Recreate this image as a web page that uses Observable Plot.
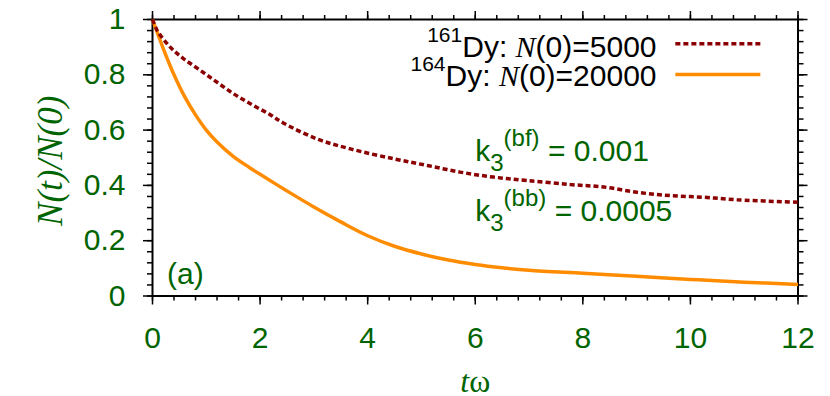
<!DOCTYPE html>
<html><head><meta charset="utf-8">
<script src="https://cdn.jsdelivr.net/npm/d3@7"></script>
<script src="https://cdn.jsdelivr.net/npm/@observablehq/plot@0.6"></script>
<style>
html,body{margin:0;padding:0;background:#fff;color:#000;}
#chart svg{display:block;}
#chart g[aria-label="x-axis tick label"], #chart g[aria-label="y-axis tick label"]{fill:#006400;}
</style></head><body><div id="chart"></div>
<script>
// ---- data ----
const tDy161 = [0, 0.09, 0.33, 0.58, 0.89, 1.2, 1.51, 1.82, 2.16, 2.44, 3.06, 3.68, 4.49, 5.11, 5.72, 6.34, 6.96, 7.77, 8.39, 9.01, 9.63, 10.25, 10.87, 12];
const nDy161 = [1, 0.96, 0.90, 0.858, 0.816, 0.773, 0.731, 0.695, 0.659, 0.625, 0.568, 0.532, 0.496, 0.472, 0.448, 0.43, 0.418, 0.403, 0.394, 0.375, 0.363, 0.357, 0.348, 0.339];
const tDy164 = [0, 0.2, 0.4, 0.6, 0.8, 1.0, 1.2, 1.5, 1.8, 2.0, 2.5, 3.0, 3.5, 4.0, 4.5, 5.0, 5.5, 6.0, 6.5, 7.0, 8.0, 9.0, 10.0, 11.0, 12.0];
const nDy164 = [1, 0.895, 0.80, 0.72, 0.655, 0.60, 0.557, 0.505, 0.465, 0.44, 0.38, 0.322, 0.268, 0.218, 0.18, 0.152, 0.13, 0.114, 0.102, 0.093, 0.082, 0.071, 0.06, 0.05, 0.042];
const xTicks = [0, 2, 4, 6, 8, 10, 12];
const xTickLabels = ["0", "2", "4", "6", "8", "10", "12"];
const yTicks = [0, 0.2, 0.4, 0.6, 0.8, 1];
const yTickLabels = ["0", "0.2", "0.4", "0.6", "0.8", "1"];
const seriesLabels = ["161Dy: N(0)=5000", "164Dy: N(0)=20000"];
const annotationLabels = ["k3(bf) = 0.001", "k3(bb) = 0.0005"];
const panelLabel = "(a)";
const xTitle = "tω";
const yTitle = "N(t)/N(0)";

// ---- layout (data coordinates of legend / annotations) ----
const legendTextT = 9.37;
const legendTextN = [0.866, 0.758];
const legendLineT = [9.72, 11.30];
const legendLineN = [0.912, 0.801];
const annotT = 6.0;
const annotN = [0.490, 0.273];
const panelT = 0.27, panelN = 0.045;

const green = "#006400";
const c161 = "#8B0000", c164 = "#FF8C00";

const d161 = tDy161.map((t, i) => ({t, n: nDy161[i]}));
const d164 = tDy164.map((t, i) => ({t, n: nDy164[i]}));
const xMinor = d3.range(0, 12.001, 0.4);
const yMinor = d3.range(0, 1.0001, 0.04);
const blank = () => "";

const leg1 = legendLineT.map(t => ({t, n: legendLineN[0]}));
const leg2 = legendLineT.map(t => ({t, n: legendLineN[1]}));
const legText = seriesLabels.map((s, i) => ({s, t: legendTextT, n: legendTextN[i]}));
const annText = annotationLabels.map((s, i) => ({s, t: annotT, n: annotN[i]}));

const dashed = {stroke: c161, strokeWidth: 3.5, strokeDasharray: "5,3", strokeLinecap: "butt", strokeLinejoin: "miter"};
const solid = {stroke: c164, strokeWidth: 3.5, strokeLinecap: "butt"};

const svg = Plot.plot({
  width: 830, height: 396,
  marginLeft: 152, marginRight: 32.5, marginTop: 19, marginBottom: 100.5,
  x: {domain: [0, 12]},
  y: {domain: [0, 1]},
  style: {fontFamily: "'Liberation Sans', Arial, sans-serif", fontSize: "30px", background: "#fff", overflow: "visible", color: "#000"},
  marks: [
    Plot.axisX({anchor: "bottom", ticks: xMinor, tickSize: 5, tickFormat: blank, strokeWidth: 1.5, label: null}),
    Plot.axisX({anchor: "top", ticks: xMinor, tickSize: 5, tickFormat: blank, strokeWidth: 1.5, label: null}),
    Plot.axisY({anchor: "left", ticks: yMinor, tickSize: 5, tickFormat: blank, strokeWidth: 1.5, label: null}),
    Plot.axisY({anchor: "right", ticks: yMinor, tickSize: 5, tickFormat: blank, strokeWidth: 1.5, label: null}),
    Plot.axisX({anchor: "top", ticks: xTicks, tickSize: 9, tickFormat: blank, strokeWidth: 1.5, label: null}),
    Plot.axisY({anchor: "right", ticks: yTicks, tickSize: 9, tickFormat: blank, strokeWidth: 1.5, label: null}),
    Plot.axisX({anchor: "bottom", ticks: xTicks, tickSize: 9, tickPadding: 22, strokeWidth: 1.5, label: null,
      tickFormat: d => xTickLabels[xTicks.indexOf(d)]}),
    Plot.axisY({anchor: "left", ticks: yTicks, tickSize: 9, tickPadding: 18, strokeWidth: 1.5, label: null,
      tickFormat: d => yTickLabels[yTicks.indexOf(d)]}),
    Plot.frame({strokeWidth: 2}),
    Plot.line(d164, {x: "t", y: "n", ...solid, curve: "catmull-rom"}),
    Plot.line(d161, {x: "t", y: "n", ...dashed, curve: "catmull-rom"}),
    Plot.line(leg1, {x: "t", y: "n", ...dashed}),
    Plot.line(leg2, {x: "t", y: "n", ...solid}),
    Plot.text(legText, {x: "t", y: "n", text: "s", textAnchor: "end", lineAnchor: "bottom", fill: "#000"}),
    Plot.text(annText, {x: "t", y: "n", text: "s", textAnchor: "start", lineAnchor: "bottom", fill: green}),
    Plot.text([panelLabel], {x: panelT, y: panelN, text: d => d, textAnchor: "start", lineAnchor: "bottom", fill: green}),
    Plot.text([xTitle], {frameAnchor: "bottom", dy: 96, text: d => d, textAnchor: "middle", lineAnchor: "bottom", fill: green, fontSize: 32}),
    Plot.text([yTitle], {frameAnchor: "left", dx: -102, dy: 3, rotate: -90, text: d => d, textAnchor: "middle", lineAnchor: "middle",
      fill: green, fontSize: 35, fontFamily: "'Liberation Serif', 'Times New Roman', serif", fontStyle: "italic"})
  ]
});

const SERIF = "'Liberation Serif', 'Times New Roman', serif";
function setRich(el, parts) {
  el.textContent = "";
  el.setAttribute("style", "white-space:pre");
  for (const p of parts) {
    const ts = document.createElementNS("http://www.w3.org/2000/svg", "tspan");
    ts.textContent = p.t;
    if (p.size) ts.setAttribute("font-size", p.size);
    if (p.dy) ts.setAttribute("dy", p.dy);
    if (p.italic) { ts.setAttribute("font-style", "italic"); ts.setAttribute("font-family", SERIF); }
    if (p.serif) ts.setAttribute("font-family", SERIF);
    el.appendChild(ts);
  }
}
for (const el of svg.querySelectorAll("text")) {
  const s = el.textContent;
  let m;
  if ((m = s.match(/^(\d+)Dy: N(\(0\)=\d+)$/))) {
    setRich(el, [{t: m[1], size: 21, dy: -15}, {t: "Dy: ", dy: 15}, {t: "N", italic: true}, {t: m[2]}]);
  } else if ((m = s.match(/^k3(\(\w+\))( = [\d.]+)$/))) {
    setRich(el, [{t: "k"}, {t: "3", size: 24, dy: 10}, {t: m[1], size: 24, dy: -25}, {t: m[2], dy: 15}]);
  } else if (s === xTitle) {
    setRich(el, [{t: "t", italic: true}, {t: "ω", serif: true}]);
  }
}
document.getElementById("chart").appendChild(svg);
</script>
</body></html>
